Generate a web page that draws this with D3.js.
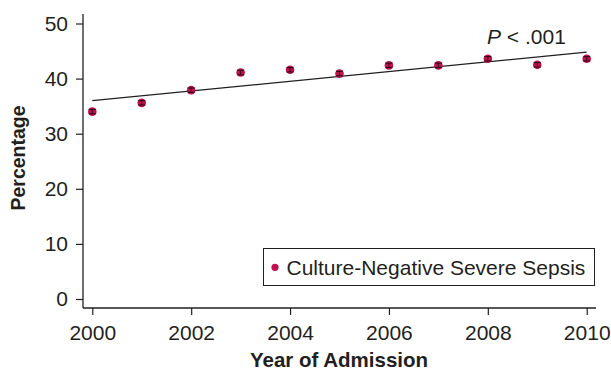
<!DOCTYPE html>
<html>
<head>
<meta charset="utf-8">
<script src="https://cdn.jsdelivr.net/npm/d3@7"></script>
<style>
  html, body { margin: 0; padding: 0; background: #fff; }
  svg { display: block; font-family: "Liberation Sans", Arial, Helvetica, sans-serif; }
</style>
</head>
<body>
<svg id="chart" width="611" height="370"></svg>
<script>
// Annual percentage of culture-negative severe sepsis with 95% CI
const years = [2000, 2001, 2002, 2003, 2004, 2005, 2006, 2007, 2008, 2009, 2010];
const pct   = [34.0, 35.6, 37.9, 41.1, 41.6, 40.9, 42.4, 42.4, 43.6, 42.5, 43.6];
const ciLow = [33.6, 35.2, 37.5, 40.7, 41.2, 40.5, 42.0, 42.0, 43.2, 42.1, 43.2];
const ciHigh= [34.4, 36.0, 38.3, 41.5, 42.0, 41.3, 42.8, 42.8, 44.0, 42.9, 44.0];

// Linear trend (fitted) across the period
const trendYears = [2000, 2010];
const trendVals  = [36.0, 44.8];

const xTicks = [2000, 2002, 2004, 2006, 2008, 2010];
const yTicks = [0, 10, 20, 30, 40, 50];
const seriesName = "Culture-Negative Severe Sepsis";
const pLabel = ["P", " < .001"];

const svg = d3.select("#chart");
const ink = "#231f20";
const dotColor = "#c0104e";
const fs = "21px";

const x = d3.scaleLinear().domain([2000, 2010]).range([92.3, 586.7]);
const y = d3.scaleLinear().domain([0, 50]).range([299, 23.5]);

const axisLeft = 83, axisBottom = 308;

// Y axis
const gy = svg.append("g").attr("transform", `translate(${axisLeft},0)`)
  .call(d3.axisLeft(y).tickValues(yTicks).tickSize(7).tickSizeOuter(0).tickPadding(8));
gy.select(".domain").remove();
gy.selectAll(".tick line").attr("stroke", ink).attr("stroke-width", 1.2);
gy.selectAll(".tick text").attr("fill", ink).style("font-size", fs);
svg.append("line").attr("x1", axisLeft).attr("x2", axisLeft)
  .attr("y1", 14).attr("y2", axisBottom).attr("stroke", ink).attr("stroke-width", 1.3);

// X axis
const gx = svg.append("g").attr("transform", `translate(0,${axisBottom})`)
  .call(d3.axisBottom(x).tickValues(xTicks).tickFormat(d3.format("d")).tickSize(7).tickSizeOuter(0).tickPadding(10));
gx.select(".domain").remove();
gx.selectAll(".tick line").attr("stroke", ink).attr("stroke-width", 1.2);
gx.selectAll(".tick text").attr("fill", ink).style("font-size", fs);
svg.append("line").attr("x1", axisLeft).attr("x2", 596)
  .attr("y1", axisBottom).attr("y2", axisBottom).attr("stroke", ink).attr("stroke-width", 1.3);

// Axis titles
svg.append("text").attr("x", 339).attr("y", 367).attr("text-anchor", "middle")
  .attr("fill", ink).style("font-size", "20.5px").style("font-weight", "bold")
  .text("Year of Admission");
svg.append("text").attr("transform", "translate(25,158) rotate(-90)").attr("text-anchor", "middle")
  .attr("fill", ink).style("font-size", "19.5px").style("font-weight", "bold")
  .text("Percentage");

// Trend line
svg.append("line")
  .attr("x1", x(trendYears[0])).attr("y1", y(trendVals[0]))
  .attr("x2", x(trendYears[1])).attr("y2", y(trendVals[1]))
  .attr("stroke", ink).attr("stroke-width", 1.3);

// Points with CI bars
const pts = svg.append("g").selectAll("g").data(years).join("g");
pts.append("circle")
  .attr("cx", d => x(d)).attr("cy", (d, i) => y(pct[i])).attr("r", 4.3)
  .attr("fill", dotColor);
pts.append("line")
  .attr("x1", d => x(d)).attr("x2", d => x(d))
  .attr("y1", (d, i) => y(ciLow[i])).attr("y2", (d, i) => y(ciHigh[i]))
  .attr("stroke", "#3a0a1c").attr("stroke-width", 1);
[ciLow, ciHigh].forEach(arr => {
  pts.append("line")
    .attr("x1", d => x(d) - 3.5).attr("x2", d => x(d) + 3.5)
    .attr("y1", (d, i) => y(arr[i])).attr("y2", (d, i) => y(arr[i]))
    .attr("stroke", "#3a0a1c").attr("stroke-width", 1.2);
});

// P-value annotation
const pt = svg.append("text").attr("x", 487).attr("y", 44)
  .attr("fill", ink).style("font-size", "21px");
pt.append("tspan").style("font-style", "italic").text(pLabel[0]);
pt.append("tspan").text(pLabel[1]);

// Legend
const lg = svg.append("g");
lg.append("rect").attr("x", 263.5).attr("y", 248.5).attr("width", 331).attr("height", 37)
  .attr("fill", "#fff").attr("stroke", ink).attr("stroke-width", 1);
lg.append("circle").attr("cx", 275).attr("cy", 267.3).attr("r", 3.6).attr("fill", dotColor);
lg.append("text").attr("x", 286.5).attr("y", 274.5).attr("fill", ink)
  .style("font-size", "21px").text(seriesName);
</script>
</body>
</html>
